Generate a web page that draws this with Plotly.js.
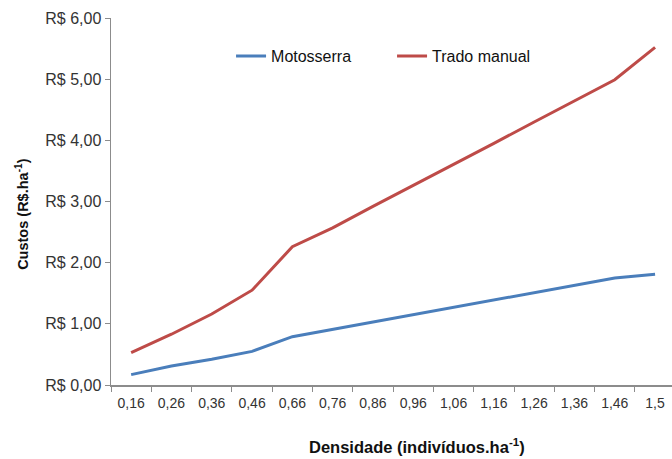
<!DOCTYPE html>
<html>
<head>
<meta charset="utf-8">
<script src="https://cdn.plot.ly/plotly-3.0.1.min.js"></script>
<style>html,body{margin:0;padding:0;background:#fff}#chart{width:672px;height:459px}</style>
</head>
<body>
<div id="chart"></div>
<script>
const densidade = ["0,16","0,26","0,36","0,46","0,66","0,76","0,86","0,96","1,06","1,16","1,26","1,36","1,46","1,5"];
const motosserra = [0.17,0.31,0.42,0.55,0.79,0.91,1.04,1.15,1.27,1.40,1.51,1.63,1.75,1.81];
const tradoManual = [0.53,0.83,1.16,1.55,2.26,2.57,2.92,3.26,3.60,3.95,4.30,4.64,4.99,5.52];
const yTickVals = [0,1,2,3,4,5,6];
const yTickText = ["R$ 0,00","R$ 1,00","R$ 2,00","R$ 3,00","R$ 4,00","R$ 5,00","R$ 6,00"];

const font = "Liberation Sans, Arial, sans-serif";
const traces = [
  {x: densidade, y: motosserra, type: "scatter", mode: "lines", name: "Motosserra",
   line: {color: "#4A7EBB", width: 3}},
  {x: densidade, y: tradoManual, type: "scatter", mode: "lines", name: "Trado manual",
   line: {color: "#BE4B48", width: 3}}
];
const layout = {
  width: 672, height: 459,
  margin: {l: 111, r: 0, t: 18, b: 73.5},
  paper_bgcolor: "#fff", plot_bgcolor: "#fff",
  font: {family: font, size: 13, color: "#333"},
  showlegend: true,
  legend: {orientation: "h", x: 0.214, y: 0.896, xanchor: "left", yanchor: "middle",
           font: {family: font, size: 16, color: "#111"}, bgcolor: "rgba(0,0,0,0)",
           entrywidth: 116, entrywidthmode: "pixels"},
  xaxis: {type: "category", range: [-0.5, 13.42], showgrid: false, zeroline: false,
          showline: true, linecolor: "#8c8c8c", linewidth: 1.5,
          ticks: "outside", tickson: "boundaries", ticklen: 5, tickcolor: "#8c8c8c",
          ticklabelstandoff: 5,
          tickfont: {family: font, size: 14, color: "#333"}},
  yaxis: {range: [0, 6], tickvals: yTickVals, ticktext: yTickText, showgrid: false, zeroline: false,
          showline: true, linecolor: "#8c8c8c", linewidth: 1.5,
          ticks: "outside", ticklen: 5, tickcolor: "#8c8c8c",
          tickfont: {family: font, size: 16, color: "#333"}},
  annotations: [
    {text: "<b>Custos (R$.ha<sup>-1</sup>)</b>", xref: "paper", yref: "paper",
     x: -0.16, y: 0.467, xanchor: "center", yanchor: "middle", textangle: -90,
     showarrow: false, font: {family: font, size: 14.5, color: "#111"}},
    {text: "<b>Densidade (indivíduos.ha<sup>-1</sup>)</b>", xref: "paper", yref: "paper",
     x: 0.545, y: -0.167, xanchor: "center", yanchor: "middle",
     showarrow: false, font: {family: font, size: 16.5, color: "#111"}}
  ]
};
Plotly.newPlot("chart", traces, layout, {displayModeBar: false, staticPlot: true});
</script>
</body>
</html>
